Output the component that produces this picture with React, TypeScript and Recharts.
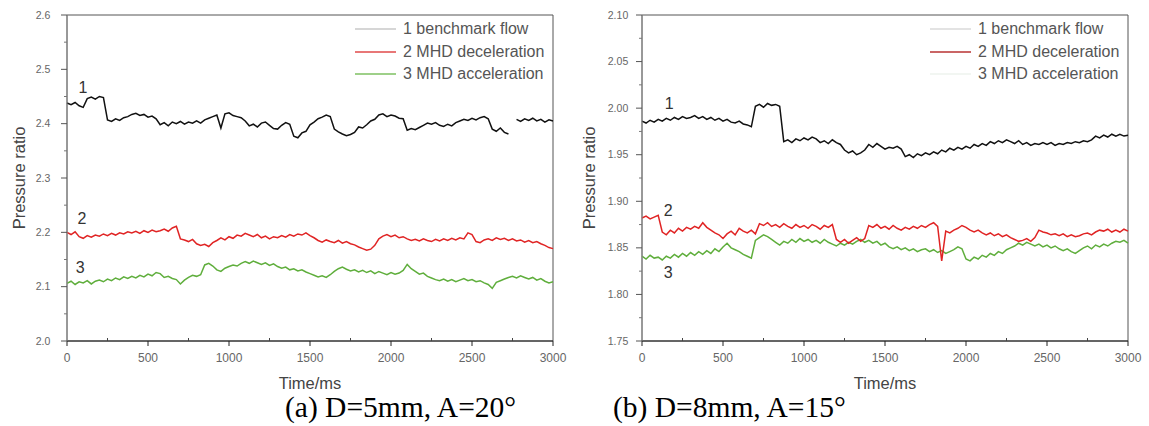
import React from 'react';
import {
  LineChart,
  Line,
  XAxis,
  YAxis,
  ReferenceArea,
  ReferenceDot,
  Legend,
} from 'recharts';

// sample grid, 25 ms apart, 0..3000
const times = Array.from({ length: 121 }, (_, i) => i * 25);

const seriesNames = ['1 benchmark flow', '2 MHD deceleration', '3 MHD acceleration'];

// (a) D=5mm, A=20
const a1: (number | null)[] = [
  2.438, 2.435, 2.439, 2.433, 2.430, 2.446, 2.449, 2.445, 2.450, 2.448,
  2.407, 2.404, 2.409, 2.406, 2.411, 2.413, 2.417, 2.419, 2.415, 2.417,
  2.412, 2.414, 2.409, 2.398, 2.402, 2.396, 2.403, 2.400, 2.404, 2.399,
  2.403, 2.401, 2.405, 2.401, 2.407, 2.410, 2.413, 2.416, 2.392, 2.418,
  2.420, 2.415, 2.413, 2.411, 2.405, 2.396, 2.399, 2.394, 2.401, 2.403,
  2.397, 2.391, 2.390, 2.397, 2.402, 2.399, 2.377, 2.374, 2.383, 2.386,
  2.398, 2.403, 2.409, 2.412, 2.416, 2.413, 2.390, 2.385, 2.381, 2.378,
  2.380, 2.384, 2.394, 2.392, 2.398, 2.405, 2.408, 2.416, 2.418, 2.413,
  2.416, 2.414, 2.410, 2.409, 2.388, 2.391, 2.389, 2.393, 2.397, 2.401,
  2.399, 2.402, 2.397, 2.395, 2.399, 2.396, 2.402, 2.405, 2.408, 2.406,
  2.410, 2.407, 2.411, 2.413, 2.409, 2.390, 2.386, 2.392, 2.384, 2.381,
  null, 2.408, 2.404, 2.409, 2.406, 2.410, 2.405, 2.408, 2.403, 2.407,
  2.405,
];
const a2 = [
  2.200, 2.196, 2.201, 2.192, 2.189, 2.194, 2.191, 2.195, 2.193, 2.197,
  2.194, 2.198, 2.195, 2.199, 2.197, 2.201, 2.199, 2.202, 2.198, 2.203,
  2.200, 2.204, 2.201, 2.203, 2.206, 2.202, 2.208, 2.211, 2.188, 2.186,
  2.183, 2.187, 2.179, 2.176, 2.178, 2.174, 2.181, 2.185, 2.190, 2.186,
  2.192, 2.189, 2.195, 2.193, 2.198, 2.195, 2.192, 2.196, 2.190, 2.193,
  2.188, 2.192, 2.190, 2.194, 2.191, 2.196, 2.193, 2.197, 2.195, 2.199,
  2.194, 2.190, 2.185, 2.182, 2.186, 2.183, 2.181, 2.185, 2.180, 2.183,
  2.179, 2.177, 2.173, 2.170, 2.167, 2.169, 2.176, 2.188, 2.193, 2.196,
  2.192, 2.195, 2.190, 2.192, 2.188, 2.185, 2.187, 2.184, 2.188, 2.185,
  2.183, 2.187, 2.184, 2.188, 2.185, 2.189, 2.186, 2.190, 2.188, 2.199,
  2.196, 2.183, 2.181, 2.186, 2.188, 2.185, 2.190, 2.187, 2.189, 2.185,
  2.188, 2.184, 2.186, 2.182, 2.185, 2.181, 2.183, 2.179, 2.176, 2.172,
  2.170,
];
const a3 = [
  2.106, 2.110, 2.104, 2.109, 2.107, 2.111, 2.105, 2.110, 2.112, 2.109,
  2.114, 2.111, 2.116, 2.113, 2.118, 2.115, 2.119, 2.116, 2.121, 2.118,
  2.123, 2.120, 2.126, 2.124, 2.117, 2.119, 2.115, 2.113, 2.105, 2.112,
  2.117, 2.121, 2.119, 2.122, 2.140, 2.143, 2.138, 2.131, 2.128, 2.134,
  2.137, 2.140, 2.138, 2.143, 2.146, 2.143, 2.147, 2.144, 2.141, 2.144,
  2.139, 2.142, 2.137, 2.134, 2.136, 2.131, 2.133, 2.129, 2.131, 2.127,
  2.124, 2.121, 2.118, 2.120, 2.117, 2.122, 2.128, 2.133, 2.136, 2.132,
  2.129, 2.131, 2.127, 2.130, 2.126, 2.129, 2.124, 2.128, 2.125, 2.122,
  2.126, 2.123, 2.125, 2.130, 2.141, 2.133, 2.128, 2.123, 2.125, 2.119,
  2.116, 2.113, 2.111, 2.114, 2.110, 2.113, 2.109, 2.112, 2.115, 2.111,
  2.113, 2.109, 2.111, 2.107, 2.104, 2.097, 2.108, 2.111, 2.114, 2.117,
  2.119, 2.116, 2.120, 2.117, 2.114, 2.117, 2.112, 2.115, 2.110, 2.107,
  2.109,
];

// (b) D=8mm, A=15
const b1 = [
  1.986, 1.984, 1.987, 1.985, 1.988, 1.986, 1.989, 1.987, 1.990, 1.988,
  1.991, 1.989, 1.990, 1.992, 1.989, 1.991, 1.988, 1.990, 1.987, 1.989,
  1.986, 1.988, 1.985, 1.984, 1.986, 1.983, 1.982, 1.980, 2.002, 2.004,
  2.001, 2.005, 2.003, 2.004, 2.002, 1.964, 1.966, 1.963, 1.967, 1.965,
  1.968, 1.966, 1.969, 1.967, 1.963, 1.965, 1.962, 1.966, 1.963, 1.961,
  1.955, 1.952, 1.954, 1.950, 1.952, 1.955, 1.961, 1.958, 1.962, 1.959,
  1.956, 1.958, 1.957, 1.959, 1.956, 1.948, 1.950, 1.947, 1.951, 1.949,
  1.952, 1.950, 1.953, 1.951, 1.955, 1.953, 1.957, 1.955, 1.958, 1.956,
  1.959, 1.957, 1.961, 1.959, 1.962, 1.960, 1.964, 1.962, 1.965, 1.963,
  1.966, 1.964, 1.962, 1.965, 1.961, 1.963, 1.960, 1.962, 1.961, 1.963,
  1.961, 1.963, 1.960, 1.962, 1.961, 1.963, 1.962, 1.964, 1.963, 1.965,
  1.964, 1.966, 1.970, 1.968, 1.971, 1.969, 1.972, 1.970, 1.972, 1.970,
  1.971,
];
const b2 = [
  1.882, 1.884, 1.881, 1.883, 1.885, 1.867, 1.864, 1.869, 1.866, 1.871,
  1.868, 1.872, 1.870, 1.873, 1.871, 1.877, 1.872, 1.869, 1.866, 1.864,
  1.860, 1.865, 1.868, 1.864, 1.871, 1.868, 1.866, 1.869, 1.865, 1.876,
  1.874, 1.877, 1.873, 1.875, 1.872, 1.876, 1.873, 1.871, 1.875, 1.872,
  1.874, 1.871, 1.875, 1.873, 1.870, 1.874, 1.872, 1.875, 1.859, 1.856,
  1.859, 1.855, 1.858, 1.861, 1.857, 1.860, 1.874, 1.872, 1.875, 1.871,
  1.873, 1.870, 1.874, 1.871, 1.869, 1.872, 1.870, 1.873, 1.871, 1.874,
  1.872, 1.875, 1.877, 1.873, 1.836, 1.868, 1.866, 1.869, 1.871, 1.874,
  1.872, 1.869, 1.867, 1.869, 1.866, 1.864, 1.866, 1.863, 1.865, 1.862,
  1.864, 1.861, 1.859, 1.857, 1.858, 1.860, 1.857, 1.861, 1.869, 1.867,
  1.866, 1.864, 1.865, 1.863, 1.865, 1.862, 1.864, 1.862, 1.863, 1.865,
  1.866, 1.864, 1.867, 1.869, 1.868, 1.870, 1.867, 1.869, 1.867, 1.870,
  1.868,
];
const b3 = [
  1.841, 1.838, 1.842, 1.839, 1.840, 1.837, 1.841, 1.839, 1.843, 1.840,
  1.844, 1.841, 1.845, 1.842, 1.846, 1.843, 1.847, 1.844, 1.849, 1.846,
  1.851, 1.855, 1.850, 1.848, 1.846, 1.843, 1.841, 1.839, 1.858, 1.861,
  1.864, 1.862, 1.859, 1.856, 1.853, 1.857, 1.855, 1.859, 1.856, 1.860,
  1.857, 1.859, 1.856, 1.858, 1.855, 1.859, 1.856, 1.854, 1.852, 1.855,
  1.853, 1.856, 1.854, 1.857, 1.859, 1.856, 1.858, 1.855, 1.857, 1.853,
  1.855, 1.851, 1.849, 1.851, 1.848, 1.850, 1.847, 1.849, 1.846, 1.848,
  1.849, 1.846, 1.848, 1.845, 1.847, 1.844, 1.846, 1.848, 1.851, 1.849,
  1.838, 1.836, 1.840, 1.838, 1.842, 1.840, 1.844, 1.842, 1.846, 1.844,
  1.848, 1.850, 1.852, 1.855, 1.853, 1.856, 1.854, 1.852, 1.854, 1.851,
  1.853, 1.850, 1.852, 1.849, 1.847, 1.849, 1.846, 1.844, 1.847, 1.850,
  1.852, 1.849, 1.853, 1.851, 1.854, 1.852, 1.855, 1.857, 1.856, 1.858,
  1.855,
];

const xMajor = [0, 500, 1000, 1500, 2000, 2500, 3000];
const xMinor = [250, 750, 1250, 1750, 2250, 2750];
const yMajorA = [2.0, 2.1, 2.2, 2.3, 2.4, 2.5, 2.6];
const yMinorA = [2.05, 2.15, 2.25, 2.35, 2.45, 2.55];
const yMajorB = [1.75, 1.8, 1.85, 1.9, 1.95, 2.0, 2.05, 2.1];
const yMinorB = [1.775, 1.825, 1.875, 1.925, 1.975, 2.025, 2.075];

const FONT = '"Liberation Sans", Arial, sans-serif';

const makeXTick = (props: any) => {
  const { x, y, payload } = props;
  if (xMajor.includes(payload.value)) {
    return (
      <g>
        <line x1={x} x2={x} y1={y} y2={y + 5} stroke="#222" />
        <text x={x} y={y + 21} textAnchor="middle" fontSize={12} fill="#666" fontFamily={FONT}>
          {payload.value}
        </text>
      </g>
    );
  }
  return <line x1={x} x2={x} y1={y - 3} y2={y} stroke="#444" />;
};

const makeYTick = (majors: number[], digits: number) => (props: any) => {
  const { x, y, payload } = props;
  if (majors.includes(payload.value)) {
    return (
      <g>
        <line x1={x - 6} x2={x} y1={y} y2={y} stroke="#555" />
        <text x={x - 24} y={y + 3.5} textAnchor="middle" fontSize={10.5} fill="#666" fontFamily={FONT}>
          {payload.value.toFixed(digits)}
        </text>
      </g>
    );
  }
  return <line x1={x - 3} x2={x} y1={y} y2={y} stroke="#777" />;
};

const makeLegend = (colors: string[]) => () => (
  <div style={{ fontFamily: FONT, fontSize: 16, color: '#555', whiteSpace: 'nowrap' }}>
    {seriesNames.map((name, i) => (
      <div key={name} style={{ display: 'flex', alignItems: 'center', height: 22.5 }}>
        <svg width={48} height={4} style={{ display: 'block' }}>
          <line x1={0} x2={41} y1={2} y2={2} stroke={colors[i]} strokeWidth={1.3} />
        </svg>
        <span>{name}</span>
      </div>
    ))}
  </div>
);

interface PanelProps {
  left: number;
  width: number;
  s1: (number | null)[];
  s2: number[];
  s3: number[];
  domain: [number, number];
  yMajor: number[];
  yMinor: number[];
  digits: number;
  titleOffset: number;
  legendColors: string[];
  marks: { t: number; v: number; text: string }[];
}

const Panel: React.FC<PanelProps> = ({
  left, width, s1, s2, s3, domain, yMajor, yMinor, digits, titleOffset, legendColors, marks,
}) => {
  const rows = times.map((t, i) => ({ t, s1: s1[i], s2: s2[i], s3: s3[i] }));
  return (
    <div style={{ position: 'absolute', left, top: 0 }}>
      <LineChart width={width} height={393} data={rows} margin={{ top: 15, right: width - 553, left: 0, bottom: 0 }}>
        <XAxis
          dataKey="t"
          type="number"
          domain={[0, 3000]}
          ticks={[...xMajor, ...xMinor].sort((p, q) => p - q)}
          interval={0}
          tickLine={false}
          tickSize={0}
          tickMargin={0}
          tick={makeXTick}
          axisLine={{ stroke: '#222' }}
          height={52}
          label={{ value: 'Time/ms', position: 'insideBottom', offset: 4, fill: '#444', fontSize: 16.5, fontFamily: FONT }}
        />
        <YAxis
          type="number"
          domain={domain}
          allowDataOverflow
          ticks={[...yMajor, ...yMinor].sort((p, q) => p - q)}
          interval={0}
          tickLine={false}
          tickSize={0}
          tickMargin={0}
          tick={makeYTick(yMajor, digits)}
          axisLine={{ stroke: '#888' }}
          width={67}
          label={{
            value: 'Pressure ratio',
            angle: -90,
            position: 'insideLeft',
            offset: titleOffset,
            fill: '#444',
            fontSize: 16.5,
            fontFamily: FONT,
            style: { textAnchor: 'middle' },
          }}
        />
        <ReferenceArea x1={0} x2={3000} y1={domain[0]} y2={domain[1]} fill="none" stroke="#555" strokeWidth={1} />
        <Line type="linear" dataKey="s3" name={seriesNames[2]} stroke="#5fae3c" strokeWidth={1.5} dot={false} isAnimationActive={false} />
        <Line type="linear" dataKey="s2" name={seriesNames[1]} stroke="#e02424" strokeWidth={1.5} dot={false} isAnimationActive={false} />
        <Line type="linear" dataKey="s1" name={seriesNames[0]} stroke="#111111" strokeWidth={1.5} dot={false} connectNulls={false} isAnimationActive={false} />
        {marks.map((m) => (
          <ReferenceDot
            key={m.text}
            x={m.t}
            y={m.v}
            r={0}
            fill="none"
            stroke="none"
            label={{ value: m.text, position: 'center', fill: '#333', fontSize: 16, fontFamily: FONT }}
          />
        ))}
        <Legend
          layout="vertical"
          align="center"
          verticalAlign="middle"
          wrapperStyle={{ top: 18, left: 355, width: 205 }}
          content={makeLegend(legendColors)}
        />
      </LineChart>
    </div>
  );
};

const captionStyle: React.CSSProperties = {
  position: 'absolute',
  top: 393,
  fontFamily: '"Liberation Serif", "Times New Roman", serif',
  fontSize: 29.5,
  lineHeight: '29px',
  color: '#000',
  whiteSpace: 'nowrap',
};

const App: React.FC = () => (
  <div style={{ position: 'absolute', left: 0, top: 0, width: 1149, height: 426, background: '#fff', overflow: 'hidden' }}>
    <Panel
      left={0}
      width={580}
      s1={a1}
      s2={a2}
      s3={a3}
      domain={[2.0, 2.6]}
      yMajor={yMajorA}
      yMinor={yMinorA}
      digits={1}
      titleOffset={19}
      legendColors={['#c9c9c9', '#e04a4a', '#7ec062']}
      marks={[
        { t: 99, v: 2.467, text: '1' },
        { t: 93, v: 2.226, text: '2' },
        { t: 82, v: 2.136, text: '3' },
      ]}
    />
    <Panel
      left={575}
      width={574}
      s1={b1}
      s2={b2}
      s3={b3}
      domain={[1.75, 2.1]}
      yMajor={yMajorB}
      yMinor={yMinorB}
      digits={2}
      titleOffset={14}
      legendColors={['#dadada', '#b83232', '#eef3ee']}
      marks={[
        { t: 168, v: 2.005, text: '1' },
        { t: 161, v: 1.89, text: '2' },
        { t: 161, v: 1.824, text: '3' },
      ]}
    />
    <div style={{ ...captionStyle, left: 285 }}>(a) D=5mm, A=20°</div>
    <div style={{ ...captionStyle, left: 613 }}>(b) D=8mm, A=15°</div>
  </div>
);

export default App;
